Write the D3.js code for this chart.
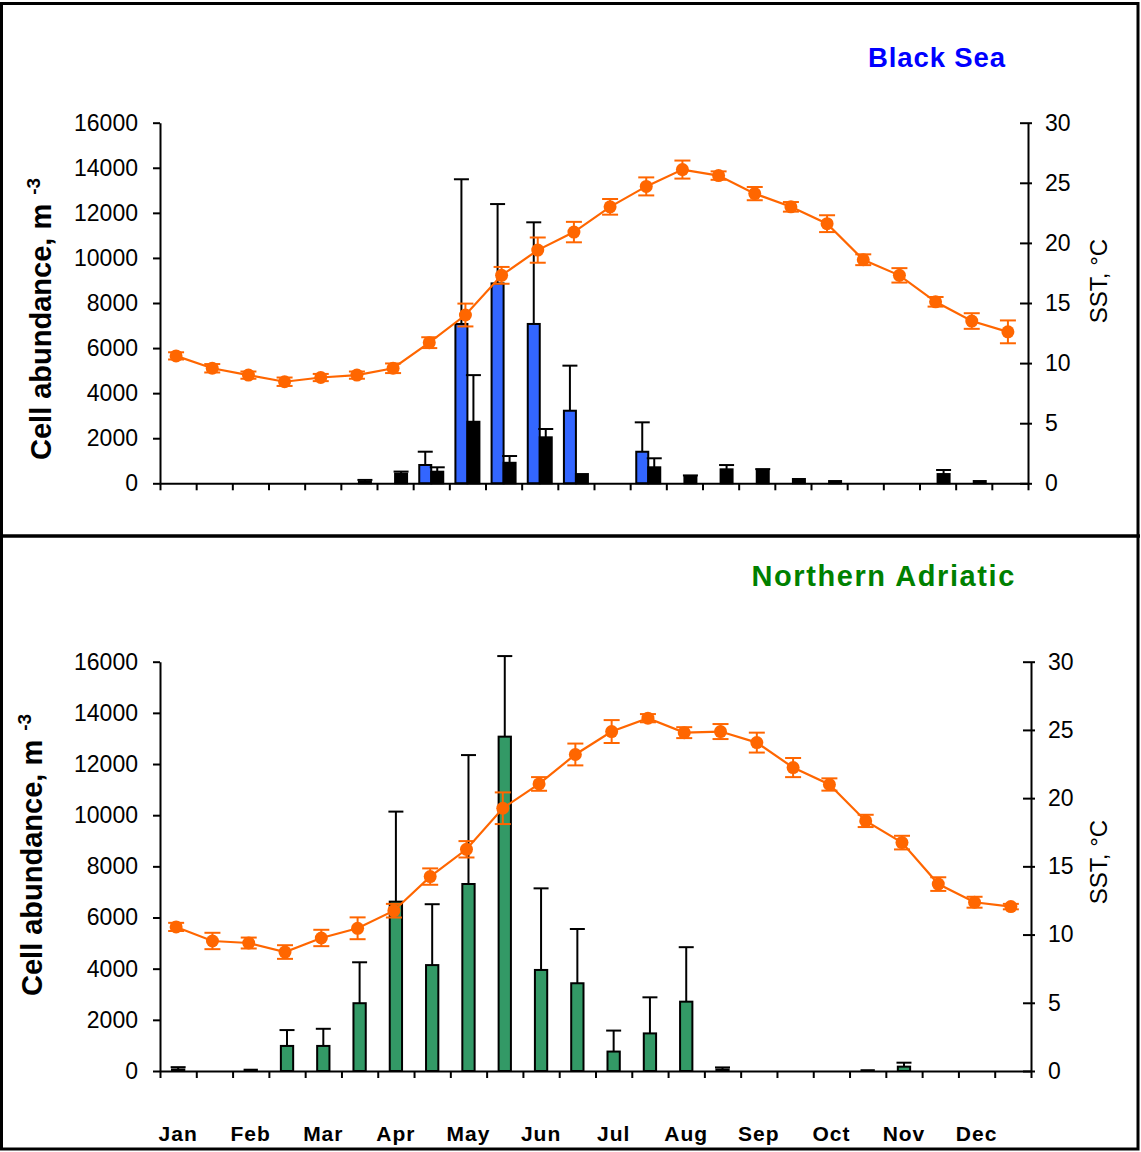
<!DOCTYPE html>
<html>
<head><meta charset="utf-8">
<title>Cell abundance and SST</title>
<style>
body { margin:0; background:#fff; }
svg { display:block; font-family:"Liberation Sans", Arial, sans-serif; }
</style>
</head>
<body>
<svg width="1141" height="1152"></svg>
<script src="https://d3js.org/d3.v7.min.js"></script>
<script>
// 24 half-month slots, label on the first half of each month
var months = ["Jan","Feb","Mar","Apr","May","Jun","Jul","Aug","Sep","Oct","Nov","Dec"];
var slots = d3.range(24);
var cellTicks = [0,2000,4000,6000,8000,10000,12000,14000,16000];
var sstTicks = [0,5,10,15,20,25,30];

// Black Sea
var bsBlue    = [0,0,0,0,0,0,0,812,7070,8870,7070,3220,0,1400,0,0,0,0,0,0,0,0,0,0];
var bsBlueErr = [0,0,0,0,0,0,0,590,6420,3520,4510,2000,0,1305,0,0,0,0,0,0,0,0,0,0];
var bsBlack    = [0,0,0,0,0,80,430,515,2730,910,2040,410,0,710,320,620,570,190,100,0,0,410,100,0];
var bsBlackErr = [0,0,0,0,0,70,90,195,2070,300,370,0,0,400,30,190,60,0,0,0,0,180,0,0];
var bsSST    = [10.6,9.57,9.0,8.45,8.8,9.0,9.57,11.7,14.0,17.3,19.4,20.9,23.0,24.7,26.1,25.6,24.1,23.0,21.6,18.6,17.3,15.1,13.5,12.6];
var bsSSTErr = [0.3,0.35,0.3,0.35,0.3,0.3,0.4,0.45,0.95,0.7,1.05,0.85,0.65,0.75,0.75,0.35,0.55,0.4,0.7,0.45,0.6,0.4,0.65,0.95];

// Northern Adriatic
var naGreen    = [60,0,50,980,980,2650,6620,4140,7310,13070,3950,3430,760,1470,2710,60,0,0,0,30,170,0,0,0];
var naGreenErr = [90,0,0,620,670,1600,3520,2380,5040,3150,3190,2120,820,1410,2130,80,0,0,0,0,155,0,0,0];
var naSST    = [10.56,9.53,9.38,8.72,9.75,10.46,11.75,14.25,16.25,19.26,21.04,23.2,24.88,25.86,24.8,24.88,24.07,22.24,21.0,18.33,16.74,13.7,12.37,12.05];
var naSSTErr = [0.3,0.6,0.4,0.5,0.6,0.8,0.5,0.6,0.6,1.16,0.5,0.8,0.84,0.3,0.4,0.55,0.73,0.7,0.45,0.45,0.5,0.5,0.4,0.2];

var orange = "#ff6600";
var svg = d3.select("svg");

// frames
svg.append("rect").attr("x",1.5).attr("y",3.5).attr("width",1136.5).attr("height",1145.5)
  .attr("fill","none").attr("stroke","#000").attr("stroke-width",3);
svg.append("line").attr("x1",0).attr("x2",1140).attr("y1",536).attr("y2",536)
  .attr("stroke","#000").attr("stroke-width",3.5);

drawPanel({
  left:160, right:1028, top:122.7, bottom:483.3,
  title:"Black Sea", titleColor:"#0000ff", titleX:1006, titleY:67, titleSize:27.5, titleSpacing:0.9,
  series:[{v:bsBlue, e:bsBlueErr, fill:"#3366ff", off:-6},
          {v:bsBlack, e:bsBlackErr, fill:"#000000", off:6}],
  barW:12, sst:bsSST, sstErr:bsSSTErr,
  ylabX:51, ylabY:460, sstLabY:281, months:false
});

drawPanel({
  left:160, right:1031, top:661.7, bottom:1071,
  title:"Northern Adriatic", titleColor:"#008000", titleX:1016, titleY:586, titleSize:29, titleSpacing:1.6,
  series:[{v:naGreen, e:naGreenErr, fill:"#339966", off:0}],
  barW:12.3, sst:naSST, sstErr:naSSTErr,
  ylabX:42, ylabY:996, sstLabY:862, months:true
});

function drawPanel(p) {
  var g = svg.append("g");
  var x = d3.scaleBand().domain(slots).range([p.left, p.right]).padding(0);
  var xl = d3.scaleLinear().domain([0, 24]).range([p.left, p.right]);
  var y = d3.scaleLinear().domain([0, 16000]).range([p.bottom, p.top]);
  var yr = d3.scaleLinear().domain([0, 30]).range([p.bottom, p.top]);
  var cx = function(i) { return x(i) + x.bandwidth() / 2; };

  // bars
  p.series.forEach(function(s) {
    g.append("g").selectAll("rect")
      .data(s.v.map(function(v, i) { return {i:i, v:v, e:s.e[i]}; }).filter(function(d) { return d.v > 0; }))
      .enter().append("rect")
        .attr("x", function(d) { return cx(d.i) + s.off - p.barW / 2; })
        .attr("y", function(d) { return y(d.v); })
        .attr("width", p.barW)
        .attr("height", function(d) { return y(0) - y(d.v); })
        .attr("fill", s.fill)
        .attr("stroke", "#000").attr("stroke-width", 2);
    var eb = g.append("g").selectAll("g")
      .data(s.v.map(function(v, i) { return {i:i, v:v, e:s.e[i]}; }).filter(function(d) { return d.e > 0; }))
      .enter().append("g").attr("stroke", "#000").attr("stroke-width", 2);
    eb.append("line")
      .attr("x1", function(d) { return cx(d.i) + s.off; })
      .attr("x2", function(d) { return cx(d.i) + s.off; })
      .attr("y1", function(d) { return y(d.v); })
      .attr("y2", function(d) { return y(d.v + d.e); });
    eb.append("line")
      .attr("x1", function(d) { return cx(d.i) + s.off - 7.5; })
      .attr("x2", function(d) { return cx(d.i) + s.off + 7.5; })
      .attr("y1", function(d) { return y(d.v + d.e); })
      .attr("y2", function(d) { return y(d.v + d.e); });
  });

  // axes
  var ax = g.append("g").attr("transform", "translate(0," + p.bottom + ")")
    .call(d3.axisBottom(xl).tickValues(d3.range(25)).tickFormat("").tickSize(7).tickSizeOuter(0));
  var al = g.append("g").attr("transform", "translate(" + p.left + ",0)")
    .call(d3.axisLeft(y).tickValues(cellTicks).tickFormat(d3.format("d")).tickSize(7).tickSizeOuter(0).tickPadding(15));
  var ar = g.append("g").attr("transform", "translate(" + p.right + ",0)")
    .call(d3.axisRight(yr).tickValues(sstTicks).tickSize(4).tickSizeOuter(0).tickPadding(13));
  ar.selectAll(".tick line").attr("x1", -8);
  [ax, al, ar].forEach(function(a) {
    a.attr("font-size", 23).attr("font-family", null);
    a.selectAll("path, line").attr("stroke", "#000").attr("stroke-width", 2);
    a.selectAll("text").attr("fill", "#000");
  });

  // SST line
  var px = function(i) { return cx(i) - 2; };
  var line = d3.line().x(function(d, i) { return px(i); }).y(function(d) { return yr(d); });
  g.append("path").datum(p.sst).attr("d", line)
    .attr("fill", "none").attr("stroke", orange).attr("stroke-width", 2.2);
  var se = g.append("g").attr("stroke", orange).attr("stroke-width", 2).selectAll("g")
    .data(p.sst).enter().append("g");
  se.append("line")
    .attr("x1", function(d, i) { return px(i); }).attr("x2", function(d, i) { return px(i); })
    .attr("y1", function(d, i) { return yr(d - p.sstErr[i]); })
    .attr("y2", function(d, i) { return yr(d + p.sstErr[i]); });
  [-1, 1].forEach(function(sgn) {
    se.append("line")
      .attr("x1", function(d, i) { return px(i) - 8; }).attr("x2", function(d, i) { return px(i) + 8; })
      .attr("y1", function(d, i) { return yr(d + sgn * p.sstErr[i]); })
      .attr("y2", function(d, i) { return yr(d + sgn * p.sstErr[i]); });
  });
  g.append("g").selectAll("circle").data(p.sst).enter().append("circle")
    .attr("cx", function(d, i) { return px(i); })
    .attr("cy", function(d) { return yr(d); })
    .attr("r", 6.5).attr("fill", orange);

  // titles and labels
  g.append("text").attr("x", p.titleX).attr("y", p.titleY)
    .attr("text-anchor", "end").attr("font-weight", "bold")
    .attr("font-size", p.titleSize).attr("letter-spacing", p.titleSpacing)
    .attr("fill", p.titleColor).text(p.title);

  var yl = g.append("text")
    .attr("transform", "translate(" + p.ylabX + "," + p.ylabY + ") rotate(-90)")
    .attr("font-weight", "bold").attr("font-size", 29).attr("fill", "#000");
  yl.append("tspan").text("Cell abundance, m");
  yl.append("tspan").attr("dx", 9).attr("dy", -11).attr("font-size", 19).text("-3");

  g.append("text")
    .attr("transform", "translate(1107," + p.sstLabY + ") rotate(-90)")
    .attr("text-anchor", "middle").attr("font-size", 24).attr("fill", "#000")
    .text("SST, \u00b0C");

  if (p.months) {
    g.append("g").selectAll("text").data(months).enter().append("text")
      .attr("x", function(d, i) { return cx(i * 2); })
      .attr("y", 1141)
      .attr("text-anchor", "middle").attr("font-weight", "bold")
      .attr("font-size", 21).attr("letter-spacing", 1)
      .text(function(d) { return d; });
  }
}
</script>
</body>
</html>
